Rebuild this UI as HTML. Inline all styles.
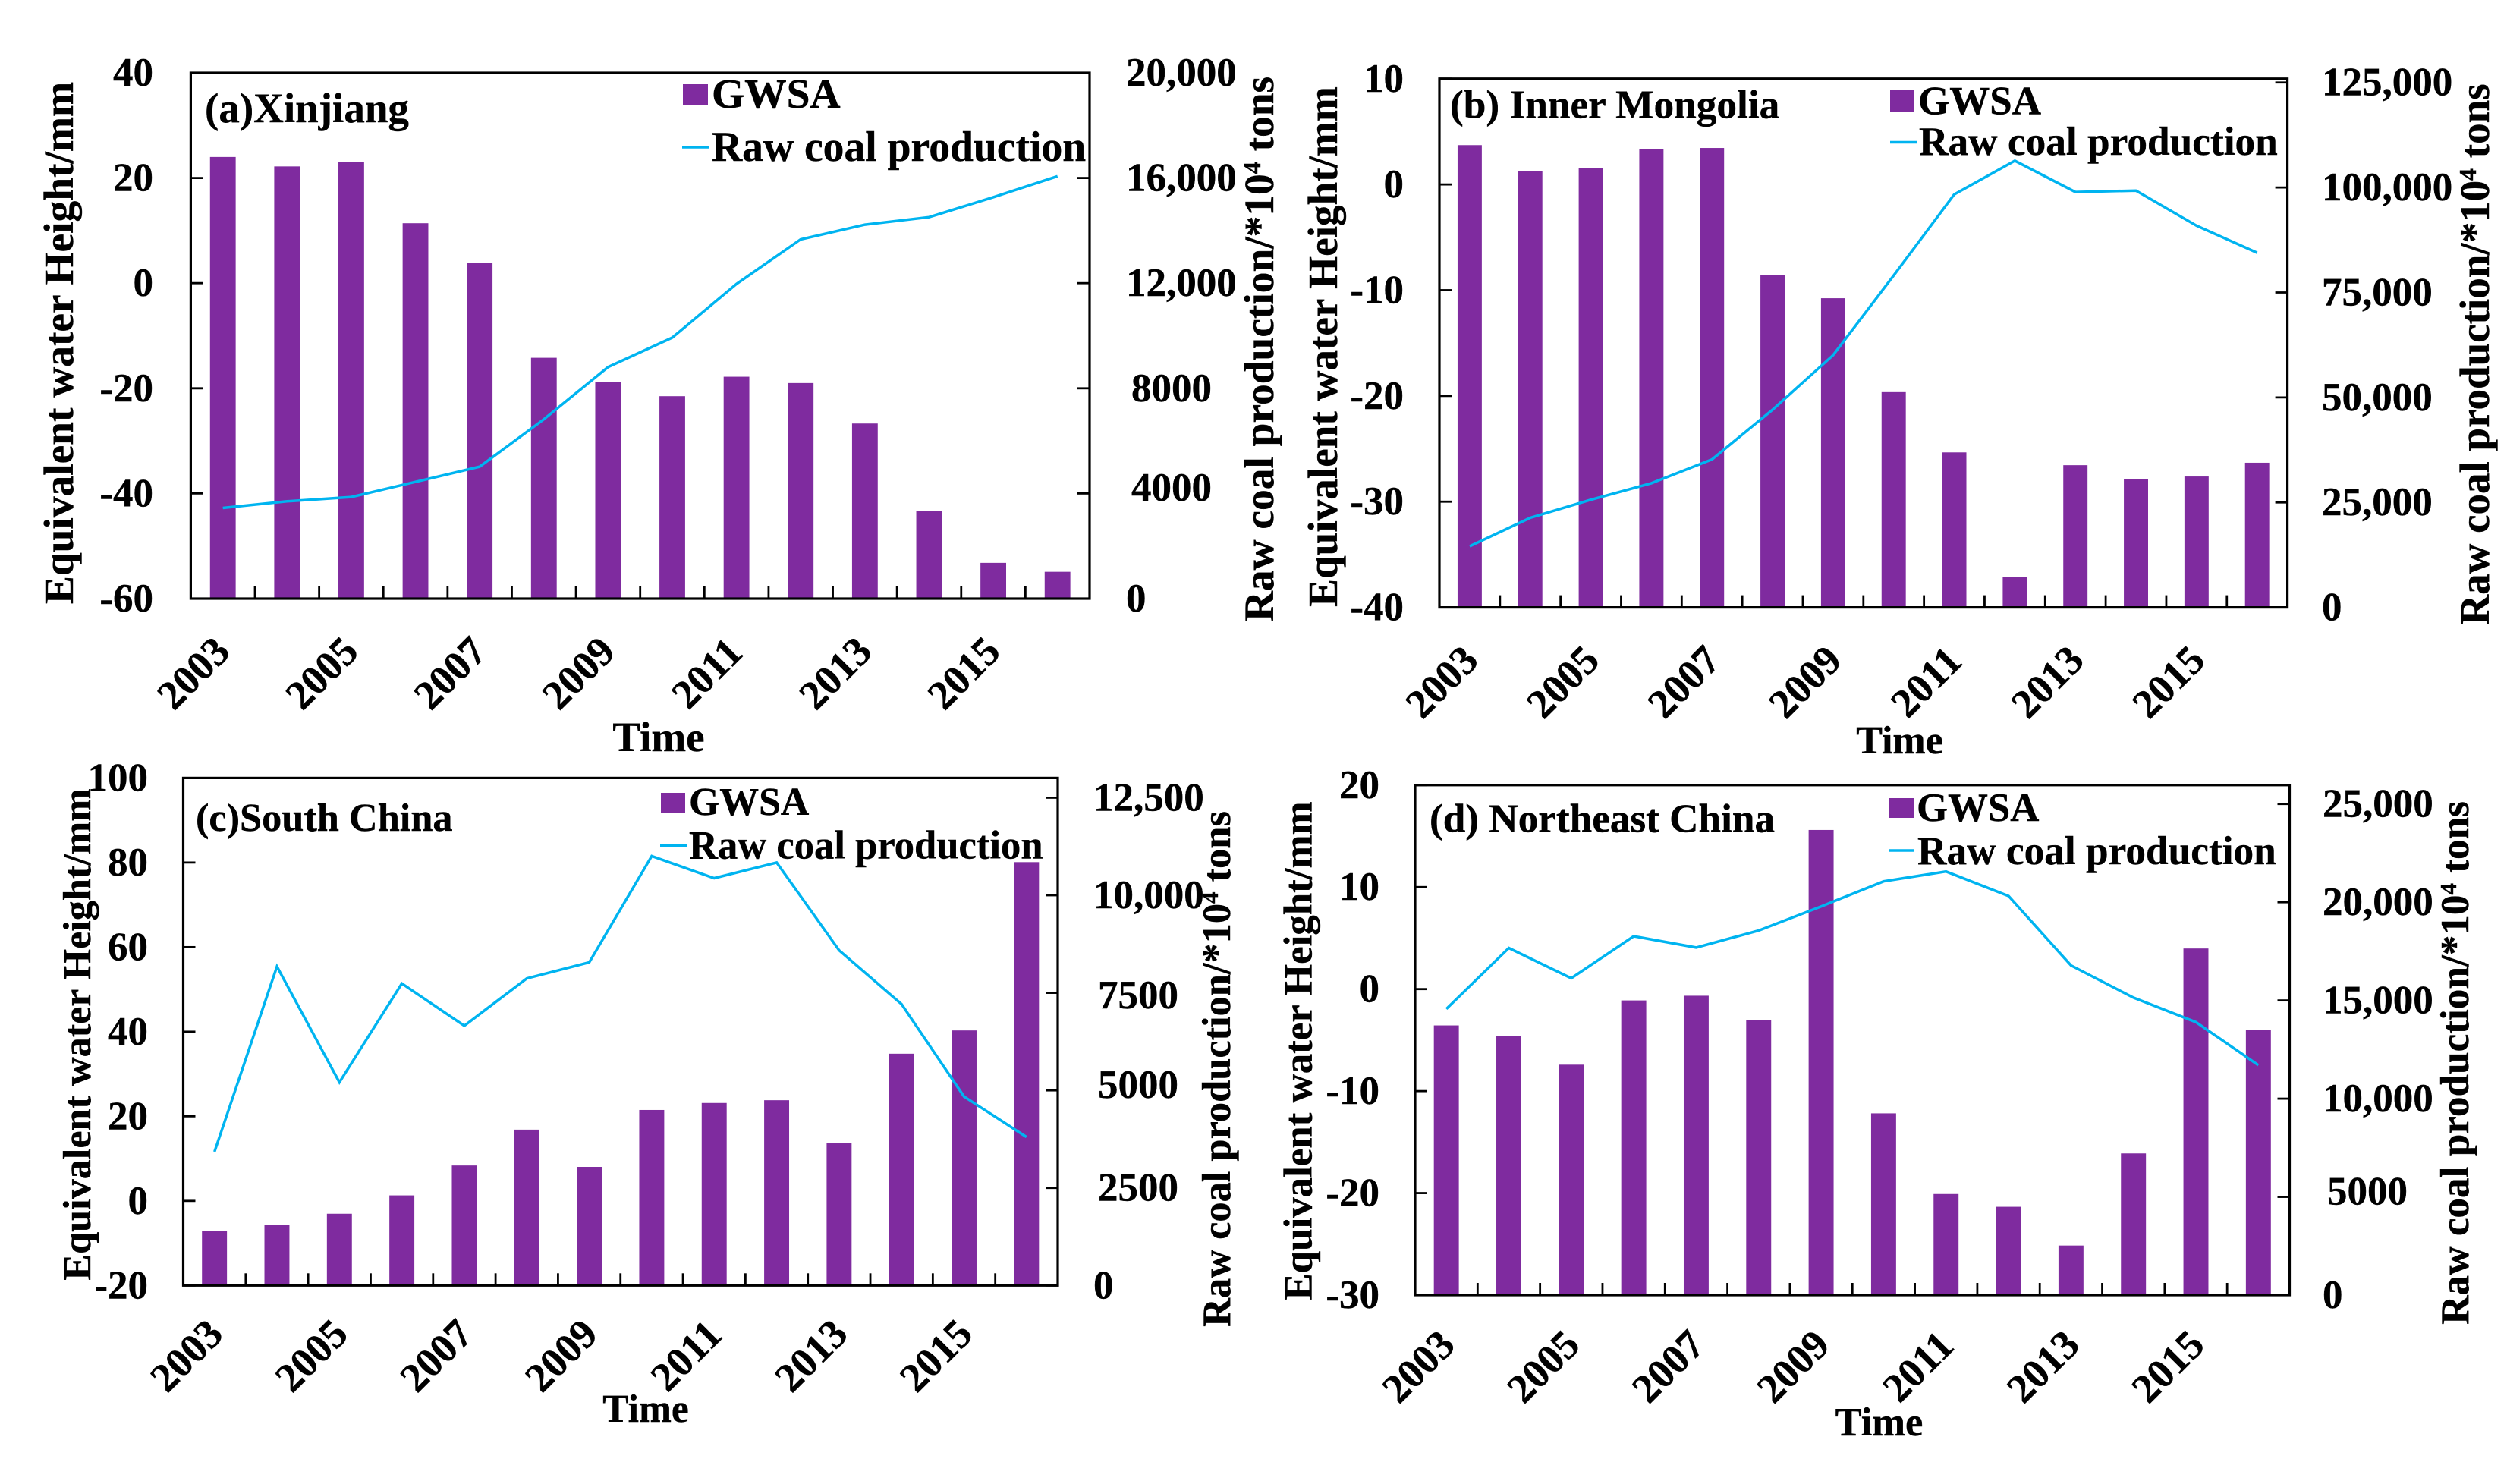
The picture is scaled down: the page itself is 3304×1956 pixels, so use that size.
<!DOCTYPE html>
<html lang="en">
<head>
<meta charset="utf-8">
<title>GWSA and raw coal production by region</title>
<style>
  html, body { margin: 0; padding: 0; background: #fff; }
  svg { display: block; }
  text { font-family: "Liberation Serif", serif; font-weight: bold; fill: #000; stroke: #000; stroke-width: 0.4; white-space: pre; }
  .frame { fill: none; stroke: #000; stroke-width: 3.2; }
  .swatch { fill: #7F2B9F; }
  .legend-line { stroke: #00B4F0; stroke-width: 3.5; fill: none; }
</style>
</head>
<body>
<svg id="figure" xmlns="http://www.w3.org/2000/svg" width="3304" height="1956" viewBox="0 0 3304 1956">
  <rect x="0" y="0" width="3304" height="1956" fill="#fff"/>

  <!-- Panel A -->
  <g id="panel-a">
    <g class="marks"></g>
    <rect class="frame" x="251.4" y="96" width="1184.6" height="693"/>
    <text x="270" y="161" font-size="55">(a)Xinjiang</text>
    <rect class="swatch" x="900" y="111" width="33" height="28"/>
    <text x="938" y="142" font-size="55.5">GWSA</text>
    <line class="legend-line" x1="899" y1="194" x2="935" y2="194"/>
    <text x="938" y="212" font-size="55.6">Raw coal production</text>
    <text transform="translate(96 452) rotate(-90)" text-anchor="middle" font-size="55.4">Equivalent water Height/mm</text>
    <text transform="translate(1678 460) rotate(-90)" text-anchor="middle" font-size="55.4">Raw coal production/*10<tspan dy="-17" font-size="32">4</tspan><tspan dy="17"> tons</tspan></text>
    <text x="868" y="990" text-anchor="middle" font-size="55">Time</text>
  </g>

  <!-- Panel B -->
  <g id="panel-b">
    <g class="marks"></g>
    <rect class="frame" x="1897" y="103.75" width="1117.6" height="696.85"/>
    <text x="1911" y="155.6" font-size="53.3">(b) Inner Mongolia</text>
    <rect class="swatch" x="2491" y="119" width="32" height="28"/>
    <text x="2528" y="150.6" font-size="53">GWSA</text>
    <line class="legend-line" x1="2491" y1="187.5" x2="2526" y2="187.5"/>
    <text x="2529" y="204" font-size="53.3">Raw coal production</text>
    <text transform="translate(1762 457) rotate(-90)" text-anchor="middle" font-size="55.2">Equivalent water Height/mm</text>
    <text transform="translate(3280 467) rotate(-90)" text-anchor="middle" font-size="55">Raw coal production/*10<tspan dy="-17" font-size="32">4</tspan><tspan dy="17"> tons</tspan></text>
    <text x="2503.5" y="993" text-anchor="middle" font-size="52">Time</text>
  </g>

  <!-- Panel C -->
  <g id="panel-c">
    <g class="marks"></g>
    <rect class="frame" x="241.5" y="1025.4" width="1152.5" height="668.9"/>
    <text x="258" y="1095" font-size="52.3">(c)South China</text>
    <rect class="swatch" x="871" y="1045" width="32" height="26.5"/>
    <text x="908" y="1074" font-size="51.8">GWSA</text>
    <line class="legend-line" x1="870" y1="1114.5" x2="906" y2="1114.5"/>
    <text x="908" y="1131.5" font-size="52.6">Raw coal production</text>
    <text transform="translate(119 1363.5) rotate(-90)" text-anchor="middle" font-size="52.2">Equivalent water Height/mm</text>
    <text transform="translate(1621 1409) rotate(-90)" text-anchor="middle" font-size="52.4">Raw coal production/*10<tspan dy="-16" font-size="31">4</tspan><tspan dy="16"> tons</tspan></text>
    <text x="851" y="1874" text-anchor="middle" font-size="51.5">Time</text>
  </g>

  <!-- Panel D -->
  <g id="panel-d">
    <g class="marks"></g>
    <rect class="frame" x="1865" y="1034.8" width="1152.5" height="672.2"/>
    <text x="1884" y="1096.4" font-size="53.2">(d) Northeast China</text>
    <rect class="swatch" x="2490" y="1052" width="33" height="26"/>
    <text x="2526" y="1082" font-size="52.8">GWSA</text>
    <line class="legend-line" x1="2489" y1="1121" x2="2523" y2="1121"/>
    <text x="2527" y="1139" font-size="53.3">Raw coal production</text>
    <text transform="translate(1728.5 1385) rotate(-90)" text-anchor="middle" font-size="52.9">Equivalent water Height/mm</text>
    <text transform="translate(3253 1401) rotate(-90)" text-anchor="middle" font-size="53.2">Raw coal production/*10<tspan dy="-16" font-size="31">4</tspan><tspan dy="16"> tons</tspan></text>
    <text x="2476.5" y="1892" text-anchor="middle" font-size="52.5">Time</text>
  </g>
</svg>

<script>
// ---- Data ----
const categories = [2003, 2004, 2005, 2006, 2007, 2008, 2009, 2010, 2011, 2012, 2013, 2014, 2015, 2016];
const xTickLabels = ['2003', '2005', '2007', '2009', '2011', '2013', '2015'];

const gwsaXinjiang = [24.0, 22.2, 23.1, 11.4, 3.8, -14.2, -18.8, -21.5, -17.8, -19.0, -26.7, -43.3, -53.2, -54.9];
const coalXinjiang = [3448, 3700, 3863, 4440, 5018, 6823, 8809, 9928, 11968, 13664, 14224, 14512, 15271, 16065];
const leftTicksXinjiang = [40, 20, 0, -20, -40, -60];
const rightTicksXinjiang = [20000, 16000, 12000, 8000, 4000, 0];
const rightLabelsXinjiang = ['20,000', '16,000', '12,000', '8000', '4000', '0'];
const rightMaxXinjiang = 20000;

const gwsaMongolia = [3.72, 1.26, 1.57, 3.36, 3.45, -8.57, -10.76, -19.64, -25.34, -37.09, -26.55, -27.85, -27.62, -26.32];
const coalMongolia = [14567, 21342, 25633, 29585, 35231, 47088, 60073, 79044, 98353, 106370, 98918, 99257, 90901, 84464];
const leftTicksMongolia = [10, 0, -10, -20, -30, -40];
const rightTicksMongolia = [125000, 100000, 75000, 50000, 25000, 0];
const rightLabelsMongolia = ['125,000', '100,000', '75,000', '50,000', '25,000', '0'];
const rightMaxMongolia = 125903;

const gwsaSouth = [-7.07, -5.76, -3.04, 1.3, 8.37, 16.85, 8.04, 21.5, 23.15, 23.8, 13.6, 34.8, 40.3, 80.1];
const coalSouth = [3428, 8175, 5207, 7739, 6656, 7869, 8281, 11003, 10437, 10838, 8588, 7209, 4842, 3805];
const leftTicksSouth = [100, 80, 60, 40, 20, 0, -20];
const rightTicksSouth = [12500, 10000, 7500, 5000, 2500, 0];
const rightLabelsSouth = ['12,500', '10,000', '7500', '5000', '2500', '0'];
const rightMaxSouth = 13006;

const gwsaNortheast = [-3.56, -4.58, -7.41, -1.11, -0.65, -3.0, 15.6, -12.18, -20.09, -21.34, -25.14, -16.11, 3.98, -3.98];
const coalNortheast = [14568, 17669, 16131, 18270, 17693, 18559, 19785, 21059, 21564, 20314, 16780, 15145, 13895, 11707];
const leftTicksNortheast = [20, 10, 0, -10, -20, -30];
const rightTicksNortheast = [25000, 20000, 15000, 10000, 5000, 0];
const rightLabelsNortheast = ['25,000', '20,000', '15,000', '10,000', '5000', '0'];
const rightMaxNortheast = 25962;

// ---- Layout (pixels) ----
const SVG_NS = 'http://www.w3.org/2000/svg';
const BAR_COLOR = '#7F2B9F';
const LINE_COLOR = '#00B4F0';

function svgEl(tag) {
  return document.createElementNS(SVG_NS, tag);
}

function drawPanel(panelId, prefix, box, series) {
  const root = document.querySelector('#' + panelId + ' .marks');
  const count = series.categories.length;
  const catW = (box.right - box.left) / count;
  const leftMax = Math.max.apply(null, series.leftTicks);
  const leftMin = Math.min.apply(null, series.leftTicks);

  function xCenter(i) { return box.left + (i + 0.5) * catW; }
  function yLeft(v) { return box.bottom - (v - leftMin) / (leftMax - leftMin) * (box.bottom - box.top); }
  function yRight(v) { return box.bottom - v / series.rightMax * (box.bottom - box.top); }

  // bars
  const barW = catW / 2.5;
  series.gwsa.forEach(function (v, i) {
    const bar = svgEl('rect');
    
    
    bar.setAttribute('x', xCenter(i) - barW / 2);
    bar.setAttribute('y', yLeft(v));
    bar.setAttribute('width', barW);
    bar.setAttribute('height', box.bottom - yLeft(v));
    bar.setAttribute('fill', BAR_COLOR);
    root.appendChild(bar);
  });

  // coal line
  const line = svgEl('polyline');
  
  
  line.setAttribute('points', series.coal.map(function (v, i) {
    return xCenter(i).toFixed(1) + ',' + yRight(v).toFixed(1);
  }).join(' '));
  line.setAttribute('fill', 'none');
  line.setAttribute('stroke', LINE_COLOR);
  line.setAttribute('stroke-width', '3.5');
  root.appendChild(line);

  // bottom tick marks at category boundaries
  for (let k = 1; k < count; k++) {
    const tick = svgEl('line');
    
    
    tick.setAttribute('x1', box.left + k * catW);
    tick.setAttribute('x2', box.left + k * catW);
    tick.setAttribute('y1', box.bottom);
    tick.setAttribute('y2', box.bottom - 16);
    tick.setAttribute('stroke', '#000');
    tick.setAttribute('stroke-width', '2.8');
    root.appendChild(tick);
  }

  // x labels
  xTickLabels.forEach(function (label) {
    const idx = series.categories.indexOf(Number(label));
    const cx = xCenter(idx) + box.xLabelDx;
    const t = svgEl('text');
    
    
    t.setAttribute('x', cx);
    t.setAttribute('y', box.xLabelY);
    t.setAttribute('text-anchor', 'middle');
    t.setAttribute('dominant-baseline', 'central');
    t.setAttribute('font-size', '54');
    t.setAttribute('transform', 'rotate(-45 ' + cx + ' ' + box.xLabelY + ')');
    t.textContent = label;
    root.appendChild(t);
  });

  // left axis
  series.leftTicks.forEach(function (v) {
    const y = yLeft(v);
    const tick = svgEl('line');
    
    
    tick.setAttribute('x1', box.left);
    tick.setAttribute('x2', box.left + 16);
    tick.setAttribute('y1', y);
    tick.setAttribute('y2', y);
    tick.setAttribute('stroke', '#000');
    tick.setAttribute('stroke-width', '2.8');
    root.appendChild(tick);

    const t = svgEl('text');
    
    
    t.setAttribute('x', box.leftLabelX);
    t.setAttribute('y', y);
    t.setAttribute('text-anchor', 'end');
    t.setAttribute('dominant-baseline', 'central');
    t.setAttribute('font-size', '53');
    t.textContent = String(v);
    root.appendChild(t);
  });

  // right axis
  series.rightTicks.forEach(function (v, i) {
    const y = yRight(v);
    const tick = svgEl('line');
    
    
    tick.setAttribute('x1', box.right);
    tick.setAttribute('x2', box.right - 16);
    tick.setAttribute('y1', y);
    tick.setAttribute('y2', y);
    tick.setAttribute('stroke', '#000');
    tick.setAttribute('stroke-width', '2.8');
    root.appendChild(tick);

    const label = series.rightLabels[i];
    const t = svgEl('text');
    
    
    t.setAttribute('x', box.rightLabelX + (label.length === 4 ? box.fourDigitDx : 0));
    t.setAttribute('y', y + (box.labelNudge[label] || 0));
    t.setAttribute('dominant-baseline', 'central');
    t.setAttribute('font-size', '53');
    t.textContent = label;
    root.appendChild(t);
  });
}

drawPanel('panel-a', 'xinjiang',
  { left: 251.4, right: 1436, top: 96, bottom: 789, xLabelDx: -39, xLabelY: 887, leftLabelX: 202, rightLabelX: 1484, fourDigitDx: 7, labelNudge: { '4000': -7.5 } },
  { categories: categories, gwsa: gwsaXinjiang, coal: coalXinjiang, leftTicks: leftTicksXinjiang, rightTicks: rightTicksXinjiang, rightLabels: rightLabelsXinjiang, rightMax: rightMaxXinjiang });

drawPanel('panel-b', 'inner-mongolia',
  { left: 1897, right: 3014.6, top: 103.75, bottom: 800.6, xLabelDx: -37, xLabelY: 898.6, leftLabelX: 1850, rightLabelX: 3060, fourDigitDx: 0, labelNudge: {} },
  { categories: categories, gwsa: gwsaMongolia, coal: coalMongolia, leftTicks: leftTicksMongolia, rightTicks: rightTicksMongolia, rightLabels: rightLabelsMongolia, rightMax: rightMaxMongolia });

drawPanel('panel-c', 'south-china',
  { left: 241.5, right: 1394, top: 1025.4, bottom: 1694.3, xLabelDx: -37, xLabelY: 1786.6, leftLabelX: 195, rightLabelX: 1441, fourDigitDx: 6, labelNudge: { '7500': 3.6, '5000': -7 } },
  { categories: categories, gwsa: gwsaSouth, coal: coalSouth, leftTicks: leftTicksSouth, rightTicks: rightTicksSouth, rightLabels: rightLabelsSouth, rightMax: rightMaxSouth });

drawPanel('panel-d', 'northeast-china',
  { left: 1865, right: 3017.5, top: 1034.8, bottom: 1707, xLabelDx: -37, xLabelY: 1801, leftLabelX: 1818, rightLabelX: 3061, fourDigitDx: 6, labelNudge: { '5000': -7 } },
  { categories: categories, gwsa: gwsaNortheast, coal: coalNortheast, leftTicks: leftTicksNortheast, rightTicks: rightTicksNortheast, rightLabels: rightLabelsNortheast, rightMax: rightMaxNortheast });
</script>
</body>
</html>
